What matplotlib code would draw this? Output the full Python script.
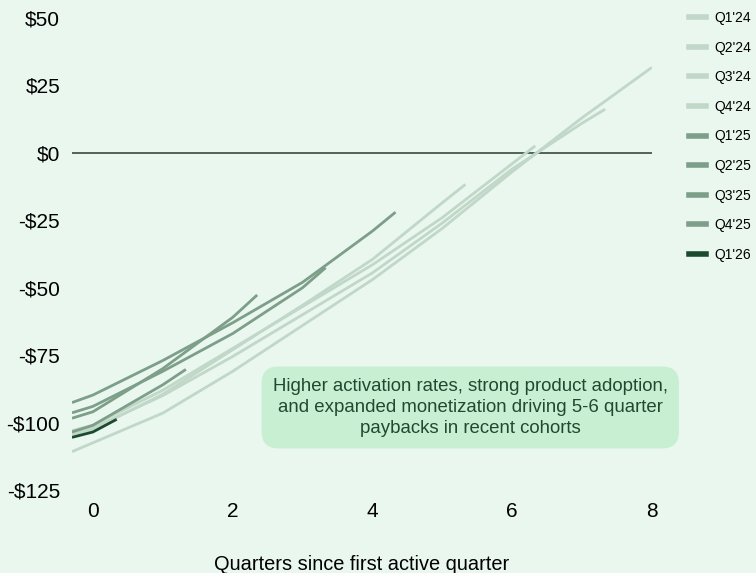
import matplotlib.pyplot as plt
from matplotlib.lines import Line2D

# Cumulative contribution per customer by cohort, in quarters since first active quarter
cohorts = ["Q1'24", "Q2'24", "Q3'24", "Q4'24", "Q1'25", "Q2'25", "Q3'25", "Q4'25", "Q1'26"]

q1_24_x = [-0.3, 0, 1, 2, 3, 4, 5, 6, 7, 8]
q1_24_y = [-110.8, -107.5, -96.5, -81, -64, -47, -28, -7, 13, 31.7]

q2_24_x = [-0.3, 0, 1, 2, 3, 4, 5, 6, 7, 7.33]
q2_24_y = [-104, -102, -90, -75.5, -60, -44.5, -26, -6, 11, 16.2]

q3_24_x = [-0.3, 0, 1, 2, 3, 4, 5, 6, 6.33]
q3_24_y = [-103, -101, -88, -72.5, -57, -41.5, -24, -4, 2.6]

q4_24_x = [-0.3, 0, 1, 2, 3, 4, 5, 5.33]
q4_24_y = [-104.5, -102.5, -89.5, -73, -56.5, -39.5, -18.5, -11.7]

q1_25_x = [-0.3, 0, 1, 2, 3, 4, 4.33]
q1_25_y = [-92.6, -89.8, -77, -63, -48, -29, -22]

q2_25_x = [-0.3, 0, 1, 2, 3, 3.33]
q2_25_y = [-96.4, -94, -81, -67, -50, -42.6]

q3_25_x = [-0.3, 0, 1, 2, 2.35]
q3_25_y = [-98.4, -96, -80, -61, -52.7]

q4_25_x = [-0.3, 0, 1, 1.33]
q4_25_y = [-103.5, -101, -86, -80.3]

q1_26_x = [-0.3, 0, 0.34]
q1_26_y = [-105.5, -103.5, -98.8]

series_x = [q1_24_x, q2_24_x, q3_24_x, q4_24_x, q1_25_x, q2_25_x, q3_25_x, q4_25_x, q1_26_x]
series_y = [q1_24_y, q2_24_y, q3_24_y, q4_24_y, q1_25_y, q2_25_y, q3_25_y, q4_25_y, q1_26_y]

y_ticks = [-125, -100, -75, -50, -25, 0, 25, 50]
x_ticks = [0, 2, 4, 6, 8]

light = "#c1d7c8"
mid = "#7d9e89"
dark = "#1b4a30"
colors = [light] * 4 + [mid] * 4 + [dark]

bg = "#e9f7ee"
plt.rcParams["font.family"] = ["Liberation Sans", "DejaVu Sans"]
fig = plt.figure(figsize=(7.56, 5.73), dpi=100, facecolor=bg)
ax = fig.add_axes([0.0952, 0.1449, 0.7672, 0.8237], facecolor=bg)

ax.axhline(0, color="#2b3a30", lw=1.1, zorder=1)
for xs, ys, c in zip(series_x, series_y, colors):
    ax.plot(xs, ys, color=c, lw=2.0, solid_capstyle="butt", zorder=2)

ax.set_xlim(-0.3, 8)
ax.set_ylim(-125, 50)
ax.set_yticks(y_ticks)
ax.set_yticklabels([f"-${abs(v)}" if v < 0 else f"${v}" for v in y_ticks], fontsize=15)
ax.set_xticks(x_ticks)
ax.set_xticklabels([str(v) for v in x_ticks], fontsize=15)
ax.tick_params(axis="y", length=0, pad=8.5)
ax.tick_params(axis="x", length=0, pad=9)
for s in ax.spines.values():
    s.set_visible(False)

ax.set_xlabel("Quarters since first active quarter", fontsize=14.4, labelpad=24)

ax.text(5.4, -94.4,
        "Higher activation rates, strong product adoption,\n"
        "and expanded monetization driving 5-6 quarter\n"
        "paybacks in recent cohorts",
        ha="center", va="center", fontsize=13.4, color="#1f4a30",
        linespacing=1.33,
        bbox=dict(boxstyle="round,pad=0.6,rounding_size=0.9",
                  fc="#c9efd2", ec="none"))

handles = [Line2D([0], [0], color=c, lw=4) for c in colors]
fig.legend(handles, cohorts, loc="upper left", bbox_to_anchor=(0.912, 0.9805),
           frameon=False, handlelength=1.2, handletextpad=0.6,
           labelspacing=1.12, borderpad=0, borderaxespad=0,
           prop={"family": "Liberation Sans", "size": 10})

fig.savefig("out.png", dpi=100, facecolor=bg)
